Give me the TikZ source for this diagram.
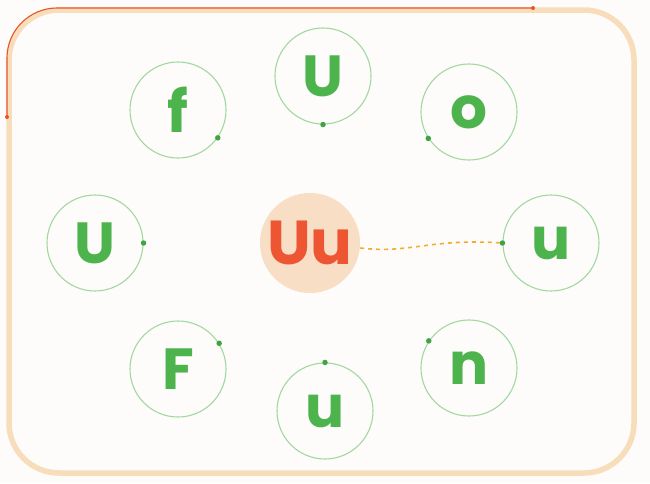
\documentclass[tikz,border=0pt]{standalone}
\usepackage{fontspec}
\setmainfont{Poppins}
\definecolor{bgc}{HTML}{FDFCFA}
\definecolor{frame}{HTML}{F8DDBA}
\definecolor{redline}{HTML}{E9532B}
\definecolor{ringc}{HTML}{A2D8A0}
\definecolor{letterc}{HTML}{4DB34D}
\definecolor{dotc}{HTML}{3FA442}
\definecolor{hubfill}{HTML}{F8DEC4}
\definecolor{hubtext}{HTML}{EE5533}
\definecolor{dashc}{HTML}{F0AE2E}
\begin{document}
\begin{tikzpicture}[x=1pt,y=-1pt,
  ring/.style={circle,draw=ringc,line width=1.1pt,minimum size=96pt,inner sep=0pt,
    text=letterc,font=\fontsize{58}{58}\selectfont\bfseries},
  hub/.style={circle,fill=hubfill,minimum size=100pt,inner sep=0pt,
    text=hubtext,font=\fontsize{62}{62}\selectfont\bfseries},
  gdot/.style={circle,fill=dotc,inner sep=0pt,minimum size=5.5pt},
  rdot/.style={circle,fill=redline,inner sep=0pt,minimum size=4pt}]
\fill[bgc] (0,0) rectangle (650,483);
\useasboundingbox (0,0) rectangle (650,483);
% frame
\draw[frame,line width=5.5pt,rounded corners=50pt] (9,10) rectangle (634,473);
\node[rdot] (ra) at (7,117) {};
\node[rdot] (rb) at (533,8) {};
\draw[redline,line width=1.1pt,rounded corners=50pt] (ra.center) -- (7,8) -- (rb.center);
% circles
\node[hub] (hub) at (310,243) {Uu};
\node[ring] (c1) at (178,110) {f};
\node[ring] (c2) at (323,76) {U};
\node[ring] (c3) at (469,112) {o};
\node[ring] (c4) at (95,243) {U};
\node[ring] (c5) at (551,243) {u};
\node[ring] (c6) at (178,369) {F};
\node[ring] (c7) at (325,411) {u};
\node[ring] (c8) at (469,368) {n};
% dots
\node[gdot] (d1) at (c1.-35) {};
\node[gdot] (d2) at (c2.-90) {};
\node[gdot] (d3) at (c3.213) {};
\node[gdot] (d4) at (c4.0) {};
\node[gdot] (d5) at (c5.180) {};
\node[gdot] (d6) at (c6.32) {};
\node[gdot] (d7) at (c7.90) {};
\node[gdot] (d8) at (c8.146) {};
% dashed link
\draw[dashc,line width=1.6pt,dash pattern=on 4pt off 4pt]
  ([yshift=-5pt]hub.east) .. controls (410,254) and (430,238) .. (d5.center);
\end{tikzpicture}
\end{document}
